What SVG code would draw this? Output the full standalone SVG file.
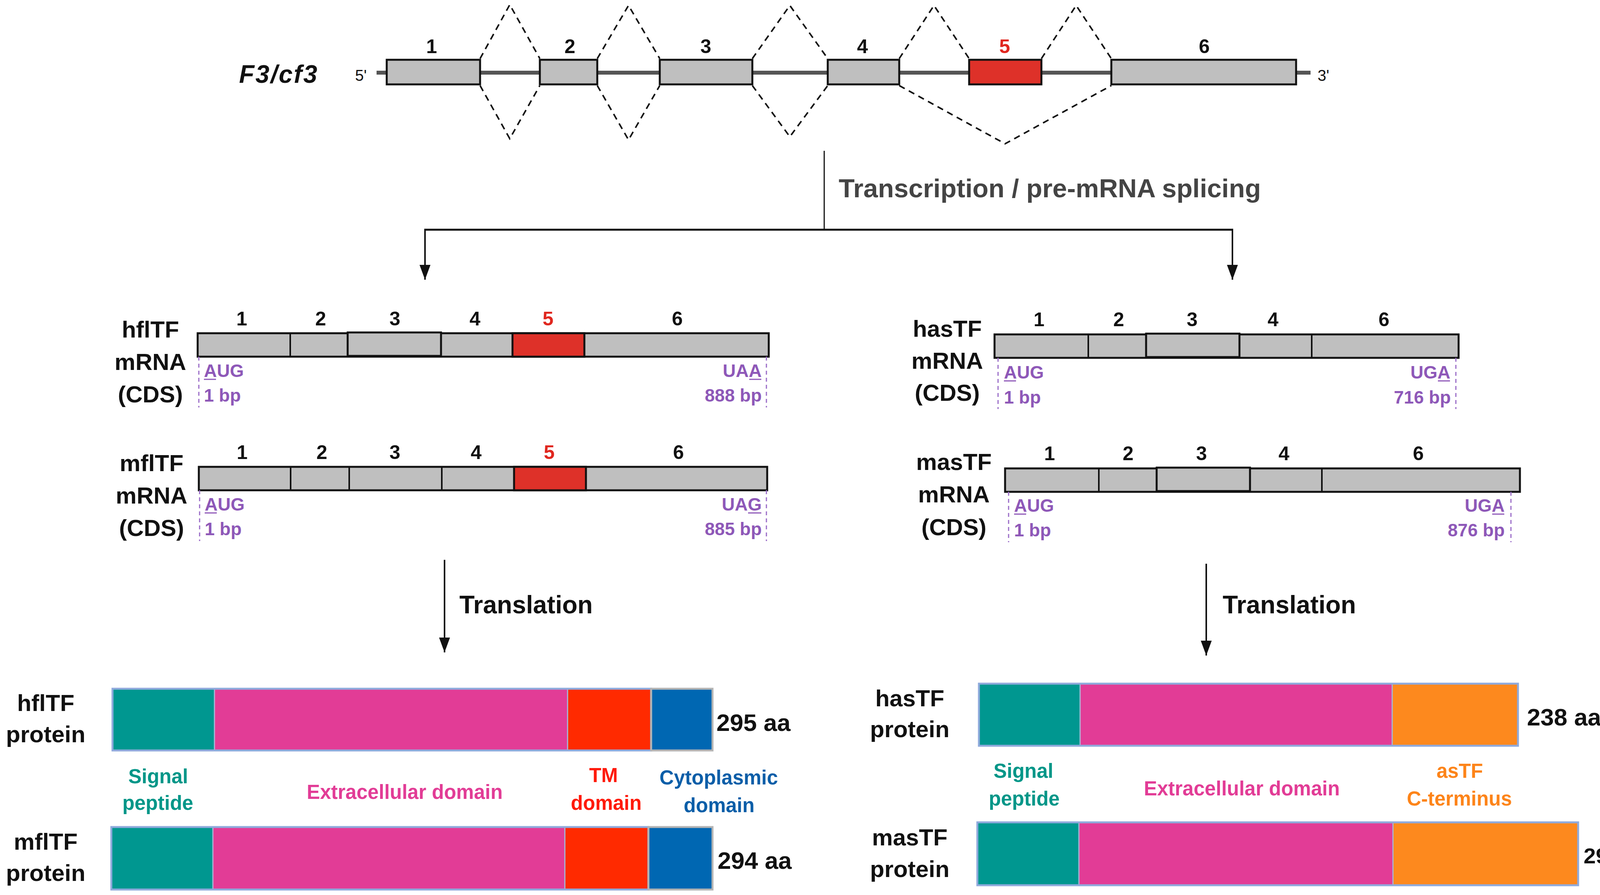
<svg xmlns="http://www.w3.org/2000/svg" width="4255" height="2291" viewBox="0 0 4255 2291">
<style>
text{font-family:"Liberation Sans",Arial,sans-serif;font-weight:bold;}
.num{font-size:50px;fill:#111;text-anchor:middle;}
.red{fill:#e0271f;}
.lab{font-size:60px;fill:#111;text-anchor:middle;}
.pur{font-size:46px;fill:#8e58b8;}
.end{text-anchor:end;}
.aa{font-size:62px;fill:#111;}
.dom{font-size:51px;text-anchor:middle;}
.exon{fill:#bfbfbf;stroke:#111;stroke-width:5;}
.exr{fill:#de3129;stroke:#111;stroke-width:5;}
.seg{stroke:#111;stroke-width:4;}
.splice{fill:none;stroke:#111;stroke-width:4;stroke-dasharray:16 12;}
.cds{stroke:#9a6cc8;stroke-width:3;stroke-dasharray:10 8;}
.ul{stroke:#8e58b8;stroke-width:3;}
.conn{stroke:#111;fill:none;}
.outline{fill:none;stroke:#8faadc;stroke-width:5;}
.sep{stroke:#a6b6d6;stroke-width:3;}
.cyto{fill:#0067b2;stroke:#b4b4b4;stroke-width:5;}
</style>
<defs>
<marker id="ah" viewBox="0 0 10 10" refX="10" refY="5" markerWidth="38" markerHeight="28" markerUnits="userSpaceOnUse" orient="auto" preserveAspectRatio="none">
<path d="M0,0 L10,5 L0,10 z" fill="#111"/>
</marker>
</defs>
<rect width="4255" height="2291" fill="#fff"/>

<g id="gene">
<text x="612" y="212" font-size="64" font-style="italic" letter-spacing="3" fill="#111">F3/cf3</text>
<text x="909" y="207" font-size="40" fill="#111" style="font-weight:normal">5'</text>
<text x="3373" y="207" font-size="40" fill="#111" style="font-weight:normal">3'</text>
<line x1="964" y1="186" x2="3355" y2="186" stroke="#555" stroke-width="10"/>
<rect class="exon" x="990" y="153" width="239" height="63"/>
<rect class="exon" x="1382" y="153" width="147" height="63"/>
<rect class="exon" x="1689" y="153" width="237" height="63"/>
<rect class="exon" x="2119" y="153" width="183" height="63"/>
<rect class="exr" x="2481" y="153" width="185" height="63"/>
<rect class="exon" x="2845" y="153" width="473" height="63"/>
<text class="num" x="1105" y="136">1</text>
<text class="num" x="1459" y="136">2</text>
<text class="num" x="1807" y="136">3</text>
<text class="num" x="2208" y="136">4</text>
<text class="num red" x="2572" y="136">5</text>
<text class="num" x="3083" y="136">6</text>
</g>

<g id="connectors">
<polyline class="splice" points="1229,150 1305,12 1382,150"/>
<polyline class="splice" points="1529,150 1609,14 1689,150"/>
<polyline class="splice" points="1926,150 2022,14 2119,150"/>
<polyline class="splice" points="2302,150 2391,14 2481,150"/>
<polyline class="splice" points="2666,150 2755,14 2845,150"/>
<polyline class="splice" points="1229,219 1305,355 1382,219"/>
<polyline class="splice" points="1529,219 1609,358 1689,219"/>
<polyline class="splice" points="1926,219 2022,350 2119,219"/>
<polyline class="splice" points="2302,219 2573,368 2845,219"/>
<line class="conn" x1="2110" y1="386" x2="2110" y2="588" stroke-width="3"/>
<line class="conn" x1="1086" y1="588" x2="3157" y2="588" stroke-width="5"/>
<line class="conn" x1="1088" y1="586" x2="1088" y2="716" stroke-width="4" marker-end="url(#ah)"/>
<line class="conn" x1="3155" y1="586" x2="3155" y2="716" stroke-width="4" marker-end="url(#ah)"/>
<line class="conn" x1="1138" y1="1433" x2="1138" y2="1670" stroke-width="4" marker-end="url(#ah)"/>
<line class="conn" x1="3088" y1="1443" x2="3088" y2="1678" stroke-width="4" marker-end="url(#ah)"/>
</g>

<g id="step-labels">
<text x="2147" y="505" font-size="67" fill="#444">Transcription / pre-mRNA splicing</text>
<text x="1176" y="1570" font-size="64" fill="#111">Translation</text>
<text x="3130" y="1570" font-size="64" fill="#111">Translation</text>
</g>

<g id="hflTF-mRNA">
<text class="lab" x="385" y="864">hflTF</text>
<text class="lab" x="385" y="947">mRNA</text>
<text class="lab" x="385" y="1030">(CDS)</text>
<rect class="exon" x="506" y="853" width="1462" height="60"/>
<rect class="exon" x="890" y="851" width="239" height="60"/>
<rect class="exr" x="1312" y="853" width="184" height="60"/>
<line class="seg" x1="743" y1="853" x2="743" y2="913"/>
<text class="num" x="619" y="833">1</text>
<text class="num" x="821" y="833">2</text>
<text class="num" x="1011" y="833">3</text>
<text class="num" x="1216" y="833">4</text>
<text class="num red" x="1403" y="833">5</text>
<text class="num" x="1734" y="833">6</text>
<line class="cds" x1="509" y1="913" x2="509" y2="1043"/>
<line class="cds" x1="1962" y1="913" x2="1962" y2="1043"/>
<text class="pur" x="522" y="965">AUG</text>
<line class="ul" x1="522" y1="971" x2="553" y2="971"/>
<text class="pur" x="522" y="1028">1 bp</text>
<text class="pur end" x="1950" y="965">UAA</text>
<line class="ul" x1="1918" y1="971" x2="1949" y2="971"/>
<text class="pur end" x="1950" y="1028">888 bp</text>
</g>

<g id="mflTF-mRNA">
<text class="lab" x="388" y="1206">mflTF</text>
<text class="lab" x="388" y="1289">mRNA</text>
<text class="lab" x="388" y="1372">(CDS)</text>
<rect class="exon" x="509" y="1195" width="1455" height="60"/>
<rect class="exr" x="1316" y="1195" width="184" height="60"/>
<line class="seg" x1="744" y1="1195" x2="744" y2="1255"/>
<line class="seg" x1="894" y1="1195" x2="894" y2="1255"/>
<line class="seg" x1="1131" y1="1195" x2="1131" y2="1255"/>
<text class="num" x="620" y="1175">1</text>
<text class="num" x="824" y="1175">2</text>
<text class="num" x="1011" y="1175">3</text>
<text class="num" x="1219" y="1175">4</text>
<text class="num red" x="1406" y="1175">5</text>
<text class="num" x="1737" y="1175">6</text>
<line class="cds" x1="511" y1="1255" x2="511" y2="1385"/>
<line class="cds" x1="1962" y1="1255" x2="1962" y2="1385"/>
<text class="pur" x="524" y="1307">AUG</text>
<line class="ul" x1="524" y1="1313" x2="555" y2="1313"/>
<text class="pur" x="524" y="1370">1 bp</text>
<text class="pur end" x="1950" y="1307">UAG</text>
<line class="ul" x1="1915" y1="1313" x2="1949" y2="1313"/>
<text class="pur end" x="1950" y="1370">885 bp</text>
</g>

<g id="hasTF-mRNA">
<text class="lab" x="2425" y="862">hasTF</text>
<text class="lab" x="2425" y="944">mRNA</text>
<text class="lab" x="2425" y="1026">(CDS)</text>
<rect class="exon" x="2546" y="856" width="1188" height="60"/>
<rect class="exon" x="2934" y="854" width="239" height="60"/>
<line class="seg" x1="2786" y1="856" x2="2786" y2="916"/>
<line class="seg" x1="3358" y1="856" x2="3358" y2="916"/>
<text class="num" x="2660" y="835">1</text>
<text class="num" x="2864" y="835">2</text>
<text class="num" x="3052" y="835">3</text>
<text class="num" x="3259" y="835">4</text>
<text class="num" x="3543" y="835">6</text>
<line class="cds" x1="2555" y1="916" x2="2555" y2="1047"/>
<line class="cds" x1="3727" y1="916" x2="3727" y2="1047"/>
<text class="pur" x="2570" y="969">AUG</text>
<line class="ul" x1="2570" y1="975" x2="2601" y2="975"/>
<text class="pur" x="2570" y="1033">1 bp</text>
<text class="pur end" x="3713" y="969">UGA</text>
<line class="ul" x1="3681" y1="975" x2="3712" y2="975"/>
<text class="pur end" x="3714" y="1033">716 bp</text>
</g>

<g id="masTF-mRNA">
<text class="lab" x="2442" y="1203">masTF</text>
<text class="lab" x="2442" y="1286">mRNA</text>
<text class="lab" x="2442" y="1370">(CDS)</text>
<rect class="exon" x="2573" y="1199" width="1318" height="60"/>
<rect class="exon" x="2961" y="1197" width="239" height="60"/>
<line class="seg" x1="2813" y1="1199" x2="2813" y2="1259"/>
<line class="seg" x1="3384" y1="1199" x2="3384" y2="1259"/>
<text class="num" x="2687" y="1178">1</text>
<text class="num" x="2888" y="1178">2</text>
<text class="num" x="3076" y="1178">3</text>
<text class="num" x="3287" y="1178">4</text>
<text class="num" x="3631" y="1178">6</text>
<line class="cds" x1="2582" y1="1259" x2="2582" y2="1388"/>
<line class="cds" x1="3868" y1="1259" x2="3868" y2="1388"/>
<text class="pur" x="2596" y="1310">AUG</text>
<line class="ul" x1="2596" y1="1316" x2="2627" y2="1316"/>
<text class="pur" x="2596" y="1373">1 bp</text>
<text class="pur end" x="3852" y="1310">UGA</text>
<line class="ul" x1="3820" y1="1316" x2="3851" y2="1316"/>
<text class="pur end" x="3852" y="1373">876 bp</text>
</g>

<g id="hflTF-protein">
<text class="lab" x="117" y="1820">hflTF</text>
<text class="lab" x="117" y="1900">protein</text>
<rect x="288" y="1763" width="261" height="158" fill="#009790"/>
<rect x="549" y="1763" width="904" height="158" fill="#e23c96"/>
<rect x="1453" y="1763" width="214" height="158" fill="#ff2a00"/>
<line class="sep" x1="549" y1="1763" x2="549" y2="1921"/>
<line class="sep" x1="1453" y1="1763" x2="1453" y2="1921"/>
<rect class="outline" x="288" y="1763" width="1379" height="158"/>
<rect class="cyto" x="1667" y="1763" width="157" height="158"/>
<text class="aa" x="1834" y="1871">295 aa</text>
</g>

<g id="left-domain-labels">
<text class="dom" x="405" y="2005" fill="#009688">Signal</text>
<text class="dom" x="404" y="2073" fill="#009688">peptide</text>
<text class="dom" x="1036" y="2045" fill="#e23c96">Extracellular domain</text>
<text class="dom" x="1545" y="2002" fill="#ff1a0a">TM</text>
<text class="dom" x="1552" y="2073" fill="#ff1a0a">domain</text>
<text class="dom" x="1840" y="2008" fill="#0b5ea8">Cytoplasmic</text>
<text class="dom" x="1841" y="2079" fill="#0b5ea8">domain</text>
</g>

<g id="mflTF-protein">
<text class="lab" x="117" y="2175">mflTF</text>
<text class="lab" x="117" y="2255">protein</text>
<rect x="285" y="2117" width="260" height="160" fill="#009790"/>
<rect x="545" y="2117" width="901" height="160" fill="#e23c96"/>
<rect x="1446" y="2117" width="214" height="160" fill="#ff2a00"/>
<line class="sep" x1="545" y1="2117" x2="545" y2="2277"/>
<line class="sep" x1="1446" y1="2117" x2="1446" y2="2277"/>
<rect class="outline" x="285" y="2117" width="1375" height="160"/>
<rect class="cyto" x="1660" y="2117" width="164" height="160"/>
<text class="aa" x="1837" y="2224">294 aa</text>
</g>

<g id="hasTF-protein">
<text class="lab" x="2329" y="1808">hasTF</text>
<text class="lab" x="2329" y="1887">protein</text>
<rect x="2506" y="1750" width="259" height="159" fill="#009790"/>
<rect x="2765" y="1750" width="799" height="159" fill="#e23c96"/>
<rect x="3564" y="1750" width="322" height="159" fill="#fd891e"/>
<line class="sep" x1="2765" y1="1750" x2="2765" y2="1909"/>
<line class="sep" x1="3564" y1="1750" x2="3564" y2="1909"/>
<rect class="outline" x="2506" y="1750" width="1380" height="159"/>
<text class="aa" x="3909" y="1857">238 aa</text>
</g>

<g id="right-domain-labels">
<text class="dom" x="2620" y="1991" fill="#009688">Signal</text>
<text class="dom" x="2622" y="2062" fill="#009688">peptide</text>
<text class="dom" x="3179" y="2036" fill="#e23c96">Extracellular domain</text>
<text class="dom" x="3737" y="1991" fill="#fd8419">asTF</text>
<text class="dom" x="3736" y="2062" fill="#fd8419">C-terminus</text>
</g>

<g id="masTF-protein">
<text class="lab" x="2329" y="2164">masTF</text>
<text class="lab" x="2329" y="2245">protein</text>
<rect x="2502" y="2105" width="260" height="161" fill="#009790"/>
<rect x="2762" y="2105" width="804" height="161" fill="#e23c96"/>
<rect x="3566" y="2105" width="474" height="161" fill="#fd891e"/>
<line class="sep" x1="2762" y1="2105" x2="2762" y2="2266"/>
<line class="sep" x1="3566" y1="2105" x2="3566" y2="2266"/>
<rect class="outline" x="2502" y="2105" width="1538" height="161"/>
<text x="4054" y="2210" font-size="56" fill="#111">291 aa</text>
</g>
</svg>
